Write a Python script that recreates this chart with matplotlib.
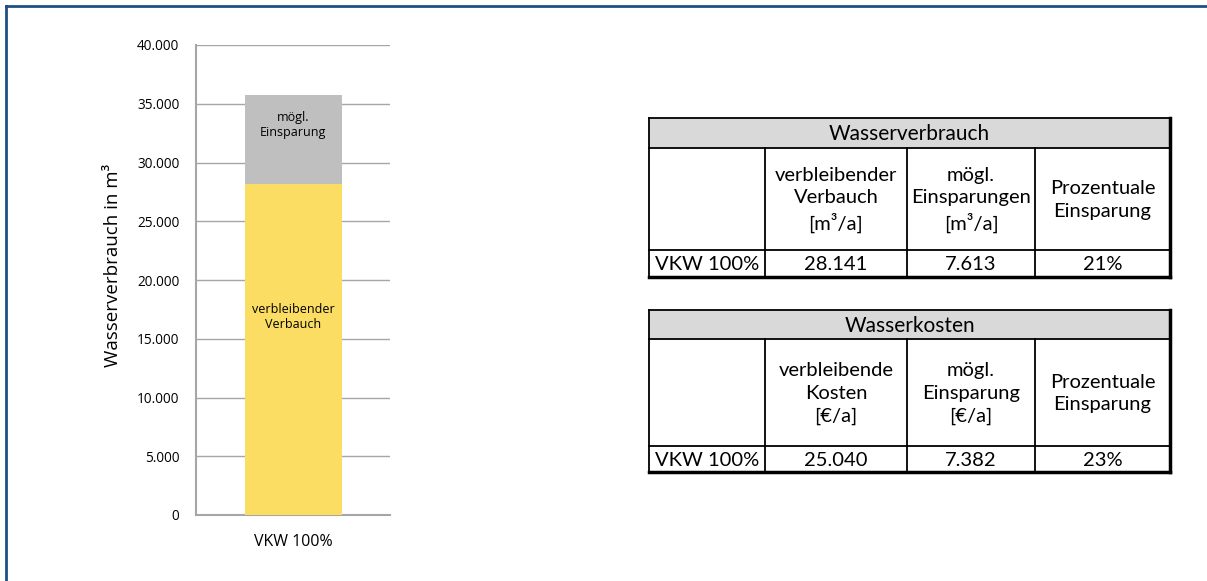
import matplotlib
matplotlib.use("Agg")
import matplotlib.pyplot as plt
from matplotlib.patches import Rectangle
from matplotlib.lines import Line2D

# data
categories = ["VKW 100%"]
verbleibend = [28141]
einsparung = [7613]
yticks = [0, 5000, 10000, 15000, 20000, 25000, 30000, 35000, 40000]
ytick_labels = ["0", "5.000", "10.000", "15.000", "20.000", "25.000", "30.000", "35.000", "40.000"]

tab1_title = "Wasserverbrauch"
tab1_head = ["", "verbleibender\nVerbauch\n[m³/a]", "mögl.\nEinsparungen\n[m³/a]", "Prozentuale\nEinsparung"]
tab1_row = ["VKW 100%", "28.141", "7.613", "21%"]
tab2_title = "Wasserkosten"
tab2_head = ["", "verbleibende\nKosten\n[€/a]", "mögl.\nEinsparung\n[€/a]", "Prozentuale\nEinsparung"]
tab2_row = ["VKW 100%", "25.040", "7.382", "23%"]

W, H = 1207, 581
fig = plt.figure(figsize=(W / 100, H / 100), dpi=100)
fig.patch.set_facecolor("white")

# blue frame (top and left visible)
fig.add_artist(Line2D([6 / W, 6 / W], [0, 1 - 6 / H], transform=fig.transFigure, color="#1f4e85", lw=2))
fig.add_artist(Line2D([6 / W, 1], [1 - 6 / H, 1 - 6 / H], transform=fig.transFigure, color="#1f4e85", lw=2))

def px_axes(x0, y0, x1, y1):
    return fig.add_axes([x0 / W, 1 - y1 / H, (x1 - x0) / W, (y1 - y0) / H])

# bar chart
ax = px_axes(196, 45, 390, 515)
x = range(len(categories))
ax.bar(x, verbleibend, width=1.0, color="#fcdd63", zorder=3)
ax.bar(x, einsparung, bottom=verbleibend, width=1.0, color="#bfbfbf", zorder=3)
ax.set_xlim(-1, 1)
ax.set_ylim(0, 40000)
ax.set_yticks(yticks)
ax.set_yticklabels(ytick_labels, fontsize=9.8, family="Open Sans")
ax.set_xticks(list(x))
ax.set_xticklabels(categories, fontsize=11.5, family="Open Sans")
ax.yaxis.grid(True, color="#a6a6a6", lw=1)
ax.set_axisbelow(True)
ax.tick_params(length=0, pad=12)
ax.tick_params(axis="x", pad=14)
for s in ["top", "right"]:
    ax.spines[s].set_visible(False)
for s in ["left", "bottom"]:
    ax.spines[s].set_color("#a6a6a6")
    ax.spines[s].set_linewidth(1.5)
ax.set_ylabel("Wasserverbrauch in m³", fontsize=13.5, family="Open Sans")
ax.yaxis.set_label_coords(-0.38, 0.53)
for i in x:
    ax.text(i, verbleibend[i] / 2 + 2800, "verbleibender\nVerbauch", ha="center", va="center",
            fontsize=9, family="Open Sans", linespacing=1.15)
    ax.text(i, verbleibend[i] + einsparung[i] / 2 + 1250, "mögl.\nEinsparung", ha="center", va="center",
            fontsize=9, family="Open Sans", linespacing=1.15)


def draw_table(x0, y0, cols, rows_h, title, head, row):
    tax = px_axes(x0, y0, cols[-1], y0 + sum(rows_h))
    tax.set_xlim(x0, cols[-1])
    tax.set_ylim(y0 + sum(rows_h), y0)
    tax.axis("off")
    y1 = y0 + rows_h[0]
    y2 = y1 + rows_h[1]
    y3 = y2 + rows_h[2]
    tax.add_patch(Rectangle((x0, y0), cols[-1] - x0, rows_h[0], facecolor="#d9d9d9", edgecolor="none"))
    tax.text((x0 + cols[-1]) / 2, (y0 + y1) / 2 + 1, title, ha="center", va="center", fontsize=15, family="Lato")
    xs = [x0] + cols
    for j in range(4):
        cx = (xs[j] + xs[j + 1]) / 2
        tax.text(cx, (y1 + y2) / 2 + 1, head[j], ha="center", va="center", fontsize=14.5,
                 family="Lato", linespacing=1.38)
        tax.text(cx, (y2 + y3) / 2 + 1, row[j], ha="center", va="center", fontsize=14.5, family="Lato")
    kw = dict(color="black", lw=1.3, solid_capstyle="projecting")
    tax.plot([x0, cols[-1]], [y0, y0], **kw)
    tax.plot([x0, cols[-1]], [y1, y1], **kw)
    tax.plot([x0, cols[-1]], [y2, y2], **kw)
    tax.plot([x0, cols[-1]], [y3, y3], color="black", lw=2.5, solid_capstyle="projecting")
    tax.plot([x0, x0], [y0, y3], **kw)
    tax.plot([cols[-1], cols[-1]], [y0, y3], color="black", lw=2.5, solid_capstyle="projecting")
    for c in cols[:-1]:
        tax.plot([c, c], [y1, y3], **kw)
    for a in tax.lines:
        a.set_clip_on(False)


draw_table(649, 118, [765, 907, 1035, 1170], [30, 102, 27], tab1_title, tab1_head, tab1_row)
draw_table(649, 310, [765, 907, 1035, 1170], [29, 107, 26], tab2_title, tab2_head, tab2_row)

fig.savefig("out.png", dpi=100)
